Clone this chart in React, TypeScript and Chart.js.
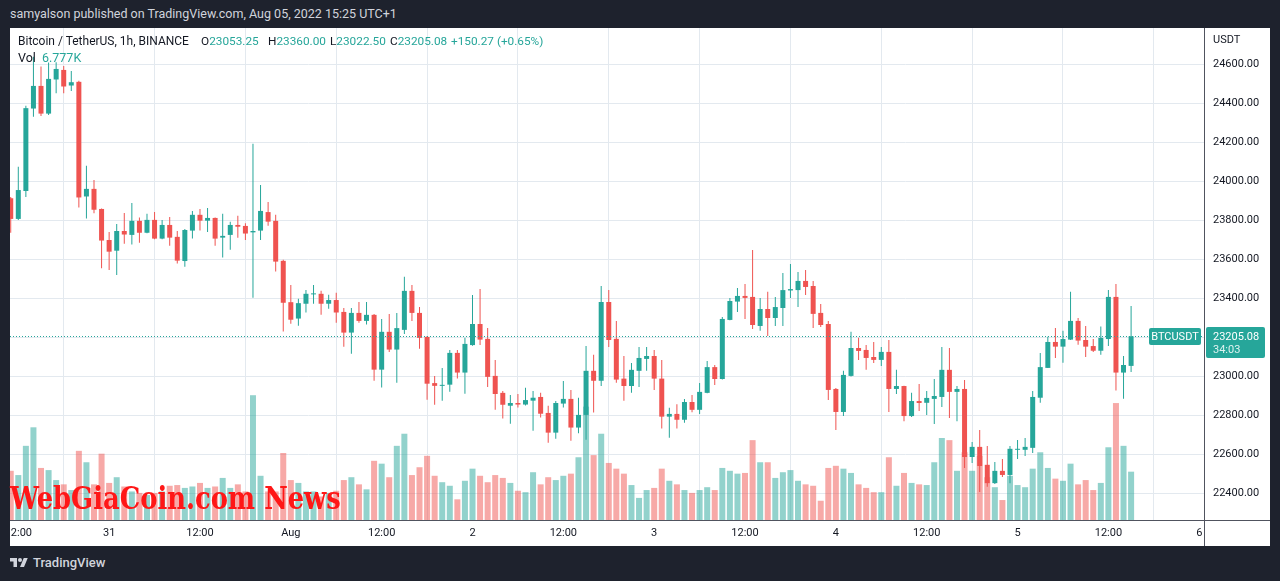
import React, { useEffect, useRef } from "react";
import { Chart, registerables } from "chart.js";

Chart.register(...registerables);

// Hours counted from Jul 30 12:00 (UTC+1); first candle is Jul 30 11:00
const FIRST_HOUR = -1;

const OPEN = [
  23913, 23807, 23950, 24373, 24489, 24347, 24522, 24571, 24491, 24510, 23922, 23961, 23858, 23699, 23644, 23745, 23725, 23797, 23736, 23802,
  23706, 23776, 23715, 23591, 23747, 23828, 23798, 23812, 23711, 23725, 23776, 23771, 23738, 23747, 23842, 23797, 23592, 23380, 23296, 23372,
  23420, 23423, 23372, 23391, 23330, 23224, 23325, 23284, 23315, 23034, 23228, 23137, 23238, 23438, 23325, 23202, 22965, 22951, 22957, 23120,
  23019, 23160, 23268, 23192, 23002, 22915, 22849, 22863, 22855, 22875, 22894, 22812, 22711, 22860, 22884, 22737, 22802, 23028, 22977, 23381,
  23192, 22988, 22950, 23028, 23089, 23104, 22988, 22793, 22807, 22777, 22868, 22828, 22915, 23047, 22986, 23289, 23383, 23412, 23407, 23258,
  23345, 23299, 23350, 23440, 23442, 23489, 23463, 23325, 23268, 22935, 22817, 23002, 23145, 23135, 23099, 23084, 23125, 22935, 22950, 22796,
  22873, 22864, 22884, 22894, 23033, 22920, 22935, 22586, 22638, 22546, 22452, 22515, 22494, 22623, 22623, 22633, 22890, 23043, 23176, 23152,
  23188, 23284, 23186, 23155, 23131, 23191, 23407, 23019, 23053.25,
];
const HIGH = [
  23920, 24074, 24387, 24639, 24588, 24609, 24611, 24591, 24566, 24515, 24079, 24007, 23860, 23740, 23781, 23837, 23889, 23814, 23833, 23842,
  23802, 23817, 23745, 23755, 23848, 23858, 23863, 23814, 23833, 23792, 23823, 23785, 24192, 23981, 23894, 23828, 23597, 23468, 23398, 23442,
  23468, 23438, 23418, 23428, 23350, 23350, 23381, 23381, 23320, 23294, 23320, 23325, 23510, 23468, 23355, 23207, 23002, 23043, 23135, 23135,
  23197, 23417, 23447, 23247, 23084, 22925, 22904, 22909, 22941, 22925, 22915, 22849, 22873, 22976, 22930, 22890, 23155, 23110, 23463, 23442,
  23284, 23104, 23068, 23150, 23150, 23135, 23084, 22838, 22857, 22884, 22904, 22965, 23078, 23058, 23304, 23402, 23453, 23473, 23648, 23402,
  23433, 23407, 23530, 23576, 23535, 23545, 23489, 23371, 23284, 22940, 23028, 23228, 23197, 23160, 23176, 23150, 23186, 23033, 22952, 22915,
  22960, 22925, 22986, 23150, 23145, 22950, 22981, 22663, 22725, 22643, 22560, 22576, 22643, 22673, 22684, 22925, 23120, 23203, 23247, 23233,
  23433, 23299, 23258, 23191, 23255, 23442, 23473, 23104, 23360,
];
const LOW = [
  23736, 23801, 23919, 24331, 24335, 24340, 24451, 24451, 24463, 23865, 23809, 23836, 23554, 23545, 23520, 23679, 23676, 23685, 23734, 23703,
  23703, 23670, 23578, 23562, 23706, 23747, 23740, 23670, 23609, 23649, 23711, 23699, 23403, 23699, 23772, 23537, 23229, 23270, 23259, 23327,
  23372, 23315, 23346, 23275, 23152, 23116, 23275, 23265, 22977, 22942, 23125, 22967, 23217, 23284, 23141, 22880, 22854, 22875, 22921, 22988,
  22911, 23157, 23160, 22945, 22829, 22783, 22757, 22840, 22850, 22721, 22788, 22659, 22680, 22840, 22669, 22708, 22675, 22814, 22950, 23150,
  22967, 22875, 22916, 22945, 23028, 22930, 22732, 22685, 22732, 22762, 22816, 22807, 22913, 22955, 22984, 23287, 23330, 23294, 23242, 23233,
  23207, 23258, 23258, 23402, 23355, 23417, 23247, 23253, 22878, 22725, 22796, 22999, 23084, 23033, 23068, 23053, 22817, 22909, 22770, 22791,
  22822, 22802, 22755, 22843, 22786, 22770, 22530, 22555, 22407, 22433, 22447, 22483, 22452, 22576, 22591, 22607, 22864, 23043, 23094, 23070,
  23186, 23162, 23099, 23125, 23111, 23155, 22927, 22885, 23022.5,
];
const CLOSE = [
  23807, 23955, 24375, 24489, 24347, 24525, 24576, 24486, 24508, 23917, 23961, 23854, 23696, 23639, 23745, 23727, 23797, 23736, 23802, 23706,
  23776, 23711, 23593, 23750, 23828, 23798, 23812, 23706, 23720, 23776, 23767, 23732, 23745, 23848, 23793, 23588, 23377, 23290, 23375, 23423,
  23423, 23372, 23391, 23327, 23224, 23325, 23284, 23315, 23034, 23228, 23137, 23247, 23438, 23325, 23197, 22962, 22951, 22955, 23120, 23019,
  23166, 23268, 23188, 22997, 22909, 22854, 22863, 22855, 22878, 22890, 22808, 22711, 22863, 22884, 22737, 22802, 23028, 22977, 23381, 23186,
  22983, 22950, 23033, 23094, 23104, 22988, 22793, 22807, 22777, 22868, 22828, 22920, 23047, 22986, 23294, 23386, 23412, 23402, 23263, 23345,
  23299, 23355, 23442, 23447, 23489, 23458, 23320, 23263, 22930, 22817, 23007, 23145, 23130, 23094, 23084, 23125, 22935, 22950, 22796, 22873,
  22863, 22889, 22899, 23033, 22920, 22935, 22586, 22638, 22540, 22452, 22515, 22494, 22628, 22628, 22638, 22894, 23047, 23176, 23152, 23191,
  23284, 23183, 23152, 23131, 23197, 23407, 23019, 23058, 23205.08,
];
// Volume in thousands of BTC
const VOLUME = [
  6.9, 6.3, 10.4, 13.0, 7.3, 7.0, 5.6, 5.0, 4.2, 9.7, 8.1, 5.0, 9.3, 5.2, 6.0, 4.7, 4.0, 3.8, 3.5, 3.8,
  4.0, 4.8, 4.9, 4.5, 4.7, 5.2, 4.5, 4.7, 5.9, 4.5, 5.0, 4.0, 17.5, 6.2, 4.0, 4.0, 9.4, 5.6, 5.2, 4.0,
  4.0, 3.3, 3.8, 4.1, 5.6, 6.0, 5.0, 4.3, 8.3, 7.9, 6.0, 10.4, 12.1, 6.3, 7.4, 9.0, 6.2, 5.3, 4.8, 2.9,
  5.5, 7.2, 6.2, 5.3, 6.3, 5.9, 5.2, 4.1, 3.9, 6.7, 5.0, 6.0, 5.6, 6.2, 6.5, 8.8, 15.9, 9.1, 12.1, 8.0,
  7.2, 6.5, 4.9, 3.1, 4.2, 4.5, 7.2, 5.5, 5.0, 4.2, 3.8, 4.2, 4.6, 4.2, 7.3, 6.9, 6.5, 6.6, 11.2, 8.1,
  8.1, 5.9, 6.7, 7.0, 5.5, 5.0, 4.8, 2.7, 7.3, 7.6, 7.2, 6.6, 5.0, 4.5, 3.9, 3.9, 8.8, 4.8, 6.6, 5.2,
  5.0, 4.9, 8.1, 11.5, 11.2, 6.9, 9.5, 6.9, 9.0, 6.0, 4.6, 2.8, 6.2, 4.9, 4.6, 7.2, 9.5, 7.3, 5.8, 5.5,
  7.9, 5.0, 5.6, 4.2, 5.2, 10.2, 16.4, 10.4, 6.777,
];

const X_TICK_HOURS = [0, 12, 24, 36, 48, 60, 72, 84, 96, 108, 120, 132, 144, 156];
const X_TICK_LABELS = ["12:00", "31", "12:00", "Aug", "12:00", "2", "12:00", "3", "12:00", "4", "12:00", "5", "12:00", "6"];
const PRICE_TICKS = [22400, 22600, 22800, 23000, 23200, 23400, 23600, 23800, 24000, 24200, 24400, 24600];

const SYMBOL = "BTCUSDT";
const LAST_PRICE = 23205.08;
const COUNTDOWN = "34:03";

const GREEN = "#26a69a";
const RED = "#ef5350";
const GREEN_A = "rgba(38,166,154,0.5)";
const RED_A = "rgba(239,83,80,0.5)";
const GRID = "#e3e9ef";
const BORDER = "#50535e";
const TEXT = "#131722";
const FONT = "Roboto, 'Noto Sans', sans-serif";

const tvPlugin = {
  id: "tvExtras",
  afterDatasetsDraw(chart: any) {
    const { ctx, chartArea: a, scales } = chart;
    const y = Math.round(scales.y.getPixelForValue(LAST_PRICE)) + 0.5;
    ctx.save();
    ctx.strokeStyle = GREEN;
    ctx.lineWidth = 1;
    ctx.setLineDash([1, 2]);
    ctx.beginPath();
    ctx.moveTo(a.left, y);
    ctx.lineTo(a.right, y);
    ctx.stroke();
    ctx.restore();
  },
  afterDraw(chart: any) {
    const { ctx, chartArea: a, scales, width, height } = chart;
    ctx.save();
    ctx.strokeStyle = BORDER;
    ctx.lineWidth = 1;
    ctx.beginPath();
    const rx = Math.round(a.right) + 0.5;
    const by = Math.round(a.bottom) + 0.5;
    ctx.moveTo(rx, 0);
    ctx.lineTo(rx, height);
    ctx.moveTo(0, by);
    ctx.lineTo(width, by);
    ctx.stroke();

    // time axis labels
    ctx.save();
    ctx.beginPath();
    ctx.rect(a.left, a.bottom + 1, a.right - a.left, height - a.bottom);
    ctx.clip();
    ctx.fillStyle = TEXT;
    ctx.font = `11px ${FONT}`;
    ctx.textAlign = "center";
    ctx.textBaseline = "middle";
    X_TICK_HOURS.forEach((h, k) => {
      ctx.fillText(X_TICK_LABELS[k], scales.x.getPixelForValue(h), a.bottom + 13);
    });
    ctx.restore();

    // currency
    ctx.fillStyle = TEXT;
    ctx.font = `11px ${FONT}`;
    ctx.textAlign = "left";
    ctx.textBaseline = "middle";
    ctx.fillText("USDT", a.right + 9, 12);

    // last price tags
    const py = scales.y.getPixelForValue(LAST_PRICE);
    ctx.fillStyle = GREEN;
    ctx.beginPath();
    ctx.roundRect(a.right - 55, Math.round(py - 8.5), 52, 17, 2);
    ctx.fill();
    ctx.beginPath();
    ctx.roundRect(a.right + 2, Math.round(py - 9.5), 59, 31, 2);
    ctx.fill();
    ctx.fillStyle = "#ffffff";
    ctx.textAlign = "center";
    ctx.fillText(SYMBOL, a.right - 29, py + 0.5);
    ctx.textAlign = "left";
    ctx.fillText(LAST_PRICE.toFixed(2), a.right + 9, py + 0.5);
    ctx.fillStyle = "rgba(255,255,255,0.85)";
    ctx.fillText(COUNTDOWN, a.right + 9, py + 13.5);
    ctx.restore();
  },
};

export default function App() {
  const ref = useRef<HTMLCanvasElement>(null);

  useEffect(() => {
    const canvas = ref.current;
    if (!canvas) return;
    const xs = OPEN.map((_, k) => FIRST_HOUR + k);
    const up = OPEN.map((o, k) => CLOSE[k] >= o);
    const candleColors = up.map((u) => (u ? GREEN : RED));
    const volColors = up.map((u) => (u ? GREEN_A : RED_A));

    const chart = new Chart(canvas, {
      type: "bar",
      data: {
        datasets: [
          {
            label: "body",
            data: xs.map((x, k) => ({ x, y: [Math.min(OPEN[k], CLOSE[k]), Math.max(OPEN[k], CLOSE[k])] })) as any,
            backgroundColor: candleColors,
            barThickness: 5,
            grouped: false,
            minBarLength: 1,
            inflateAmount: 0,
            borderWidth: 0,
            yAxisID: "y",
            order: 1,
          } as any,
          {
            label: "wick",
            data: xs.map((x, k) => ({ x, y: [LOW[k], HIGH[k]] })) as any,
            backgroundColor: candleColors,
            barThickness: 1,
            grouped: false,
            inflateAmount: 0,
            borderWidth: 0,
            yAxisID: "y",
            order: 2,
          } as any,
          {
            label: "volume",
            data: xs.map((x, k) => ({ x, y: VOLUME[k] })) as any,
            backgroundColor: volColors,
            barThickness: 6,
            grouped: false,
            inflateAmount: 0,
            borderWidth: 0,
            yAxisID: "yv",
            order: 3,
          } as any,
        ],
      },
      options: {
        animation: false,
        responsive: false,
        events: [],
        layout: { padding: 0, autoPadding: false },
        plugins: { legend: { display: false }, tooltip: { enabled: false } },
        scales: {
          x: {
            type: "linear",
            min: -1.096,
            max: 156.63,
            offset: false,
            position: "bottom",
            grid: { color: GRID, drawTicks: false },
            border: { display: false },
            ticks: { display: false },
            afterBuildTicks: (s: any) => {
              s.ticks = X_TICK_HOURS.map((v) => ({ value: v }));
            },
            afterFit: (s: any) => {
              s.height = 26;
              s.paddingLeft = 0;
              s.paddingRight = 0;
              s.paddingTop = 0;
              s.paddingBottom = 0;
            },
          },
          y: {
            type: "linear",
            position: "right",
            min: 22263,
            max: 24786,
            grid: { color: GRID, drawTicks: false },
            border: { display: false },
            ticks: {
              color: TEXT,
              padding: 9,
              font: { family: FONT, size: 11 },
              callback: (v: any) => Number(v).toFixed(2),
            },
            afterBuildTicks: (s: any) => {
              s.ticks = PRICE_TICKS.map((v) => ({ value: v }));
            },
            afterFit: (s: any) => {
              s.width = 66;
              s.paddingTop = 0;
              s.paddingBottom = 0;
              s.paddingLeft = 0;
              s.paddingRight = 0;
            },
          },
          yv: {
            type: "linear",
            display: false,
            min: 0,
            max: 69,
          },
        },
      } as any,
      plugins: [tvPlugin],
    });
    return () => chart.destroy();
  }, []);

  const teal = { color: GREEN };
  const legendBase: React.CSSProperties = {
    position: "absolute",
    fontSize: 12,
    lineHeight: "16px",
    color: TEXT,
    whiteSpace: "nowrap",
  };
  const valueBase: React.CSSProperties = { ...legendBase, fontSize: 11.8 };

  return (
    <div
      style={{
        position: "fixed",
        left: 0,
        top: 0,
        width: 1280,
        height: 581,
        background: "#1e222d",
        overflow: "hidden",
        fontFamily: FONT,
      }}
    >
      <div style={{ position: "absolute", left: 10, top: 6, fontSize: 12.5, lineHeight: "16px", color: "#d1d4dc", whiteSpace: "nowrap" }}>
        samyalson published on TradingView.com, Aug 05, 2022 15:25 UTC+1
      </div>
      <div style={{ position: "absolute", left: 10, top: 28, width: 1260, height: 518, background: "#ffffff" }}>
        <canvas ref={ref} width={1260} height={518} style={{ display: "block", width: 1260, height: 518 }} />
        <div style={{ ...legendBase, left: 8, top: 5 }}>Bitcoin / TetherUS, 1h, BINANCE</div>
        <div style={{ ...valueBase, left: 191, top: 5 }}>
          O<span style={teal}>23053.25</span>
        </div>
        <div style={{ ...valueBase, left: 258, top: 5 }}>
          H<span style={teal}>23360.00</span>
        </div>
        <div style={{ ...valueBase, left: 320, top: 5 }}>
          L<span style={teal}>23022.50</span>
        </div>
        <div style={{ ...valueBase, left: 380, top: 5 }}>
          C<span style={teal}>23205.08</span>
        </div>
        <div style={{ ...valueBase, left: 441, top: 5, color: GREEN }}>+150.27 (+0.65%)</div>
        <div style={{ ...legendBase, left: 8, top: 22, fontSize: 12.5 }}>Vol</div>
        <div style={{ ...legendBase, left: 32, top: 22, fontSize: 12.5, color: GREEN }}>6.777K</div>
        <div
          style={{
            position: "absolute",
            left: 0,
            top: 453,
            fontFamily: "'DejaVu Serif', serif",
            fontWeight: "bold",
            fontStretch: "condensed",
            fontSize: 31,
            lineHeight: "34px",
            color: "#ff1717",
            whiteSpace: "nowrap",
            pointerEvents: "none",
            transform: "scaleX(0.925)",
            transformOrigin: "0 0",
          }}
        >
          WebGiaCoin.com News
        </div>
      </div>
      <div style={{ position: "absolute", left: 10, top: 556, display: "flex", alignItems: "center", gap: 5 }}>
        <svg width="18" height="14" viewBox="0 0 36 28">
          <path d="M14 22H7V11H0V4h14v18zM28 22h-8l7.5-18h8L28 22z" fill="#d1d4dc" />
          <circle cx="20" cy="8" r="4" fill="#d1d4dc" />
        </svg>
        <span style={{ color: "#d1d4dc", fontSize: 13, fontWeight: 500, lineHeight: "14px" }}>TradingView</span>
      </div>
    </div>
  );
}
